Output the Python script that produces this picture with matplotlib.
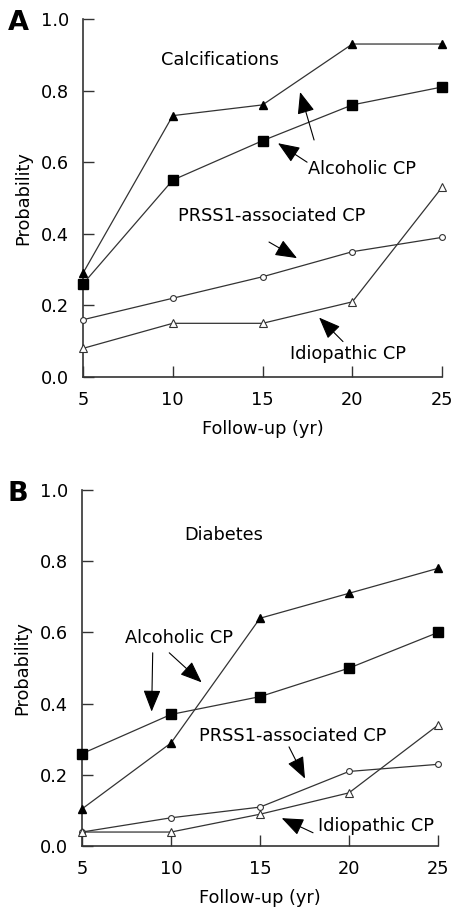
import matplotlib
matplotlib.use('Agg')
import matplotlib.pyplot as plt

plt.rcParams['font.family'] = ['DejaVu Sans']

years = [5, 10, 15, 20, 25]

# Panel A - calcifications
calc_alc_tri = [0.29, 0.73, 0.76, 0.93, 0.93]
calc_alc_sq = [0.26, 0.55, 0.66, 0.76, 0.81]
calc_prss1 = [0.16, 0.22, 0.28, 0.35, 0.39]
calc_idio = [0.08, 0.15, 0.15, 0.21, 0.53]

# Panel B - diabetes
diab_alc_tri = [0.105, 0.29, 0.64, 0.71, 0.78]
diab_alc_sq = [0.26, 0.37, 0.42, 0.50, 0.60]
diab_prss1 = [0.04, 0.08, 0.11, 0.21, 0.23]
diab_idio = [0.04, 0.04, 0.09, 0.15, 0.34]

yticks = [0.0, 0.2, 0.4, 0.6, 0.8, 1.0]
FONT = 12.8
LINE_C = '#333333'
ARROW = dict(arrowstyle='-|>,head_length=0.75,head_width=0.3', color='black',
             lw=0.8, shrinkA=0, shrinkB=0, mutation_scale=18)


def draw_series(ax, tri, sq, circ, otri):
    ax.plot(years, tri, color=LINE_C, lw=0.9, marker='^', markersize=5.5,
            markerfacecolor='black', markeredgecolor='black', clip_on=False, zorder=3)
    ax.plot(years, sq, color=LINE_C, lw=0.9, marker='s', markersize=6.5,
            markerfacecolor='black', markeredgecolor='black', clip_on=False, zorder=3)
    ax.plot(years, circ, color=LINE_C, lw=0.9, marker='o', markersize=4.2,
            markerfacecolor='white', markeredgecolor=LINE_C, markeredgewidth=0.8,
            clip_on=False, zorder=3)
    ax.plot(years, otri, color=LINE_C, lw=0.9, marker='^', markersize=5.2,
            markerfacecolor='white', markeredgecolor=LINE_C, markeredgewidth=0.8,
            clip_on=False, zorder=3)


def style_axes(ax, letter, letter_y):
    ax.set_xlim(5, 25)
    ax.set_ylim(0, 1.0)
    ax.set_xticks(years)
    ax.set_yticks(yticks)
    ax.set_yticklabels(['%.1f' % v for v in yticks])
    ax.spines['top'].set_visible(False)
    ax.spines['right'].set_visible(False)
    ax.spines['left'].set_color(LINE_C)
    ax.spines['bottom'].set_color(LINE_C)
    ax.spines['left'].set_linewidth(1.2)
    ax.spines['bottom'].set_linewidth(1.2)
    ax.tick_params(direction='in', length=8, width=1, colors=LINE_C,
                   labelsize=FONT, labelcolor='black', pad=10)
    ax.set_xlabel('Follow-up (yr)', fontsize=FONT, labelpad=8)
    ax.set_ylabel('Probability', fontsize=FONT, labelpad=6)
    ax.text(-0.21, letter_y, letter, transform=ax.transAxes, fontsize=19.5,
            fontweight='bold', va='center', ha='left')


fig = plt.figure(figsize=(4.61, 9.16), dpi=100)
axA = fig.add_axes([0.180, 0.5884, 0.779, 0.3909])
axB = fig.add_axes([0.178, 0.0761, 0.772, 0.389])

# Panel A
draw_series(axA, calc_alc_tri, calc_alc_sq, calc_prss1, calc_idio)
style_axes(axA, 'A', 0.99)
axA.text(12.6, 0.885, 'Calcifications', fontsize=FONT, ha='center', va='center')
axA.text(20.55, 0.581, 'Alcoholic CP', fontsize=FONT, ha='center', va='center')
axA.annotate('', xy=(17.09, 0.796), xytext=(17.87, 0.662), arrowprops=ARROW)
axA.annotate('', xy=(15.86, 0.653), xytext=(17.48, 0.60), arrowprops=ARROW)
axA.text(15.53, 0.45, 'PRSS1-associated CP', fontsize=FONT, ha='center', va='center')
axA.annotate('', xy=(16.92, 0.332), xytext=(15.36, 0.377), arrowprops=ARROW)
axA.text(19.76, 0.064, 'Idiopathic CP', fontsize=FONT, ha='center', va='center')
axA.annotate('', xy=(18.15, 0.166), xytext=(19.48, 0.099), arrowprops=ARROW)

# Panel B
draw_series(axB, diab_alc_tri, diab_alc_sq, diab_prss1, diab_idio)
style_axes(axB, 'B', 0.99)
axB.text(12.98, 0.873, 'Diabetes', fontsize=FONT, ha='center', va='center')
axB.text(10.45, 0.585, 'Alcoholic CP', fontsize=FONT, ha='center', va='center')
axB.annotate('', xy=(8.91, 0.378), xytext=(8.97, 0.543), arrowprops=ARROW)
axB.annotate('', xy=(11.72, 0.46), xytext=(9.9, 0.543), arrowprops=ARROW)
axB.text(16.85, 0.31, 'PRSS1-associated CP', fontsize=FONT, ha='center', va='center')
axB.annotate('', xy=(17.53, 0.19), xytext=(16.63, 0.279), arrowprops=ARROW)
axB.text(21.5, 0.057, 'Idiopathic CP', fontsize=FONT, ha='center', va='center')
axB.annotate('', xy=(16.22, 0.079), xytext=(17.98, 0.038), arrowprops=ARROW)

fig.savefig('out.png', dpi=100)
